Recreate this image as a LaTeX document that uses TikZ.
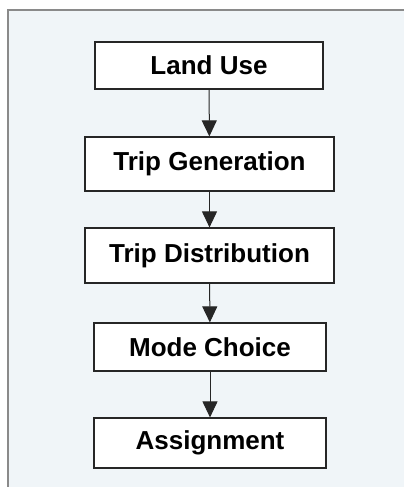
\documentclass[tikz,border=0pt]{standalone}
\usepackage{fontspec}
\setmainfont{Liberation Sans}
\usetikzlibrary{arrows.meta}
\definecolor{panel}{HTML}{F0F5F8}
\definecolor{edge}{HTML}{8A8A8A}
\begin{document}
\begin{tikzpicture}[x=1pt,y=-1pt,
  stepbox/.style={draw=black!85,line width=1.2pt,fill=white,inner sep=0pt,font=\fontsize{26}{30}\selectfont\bfseries},
  flow/.style={draw=black!85,line width=1pt,-{Triangle[width=15pt,length=16pt]}}]
\useasboundingbox (0,0) rectangle (404,487);
\fill[white] (0,0) rectangle (404,487);
\fill[panel] (8,10) rectangle (404,487);
\draw[edge,line width=1.2pt] (8,487) -- (8,10) -- (404,10);
\node[stepbox,minimum width=228pt,minimum height=47pt] (lu) at (209,65.5) {Land Use};
\node[stepbox,minimum width=249pt,minimum height=54pt] (tg) at (209.5,164) {Trip Generation};
\node[stepbox,minimum width=249pt,minimum height=55pt] (td) at (209.5,255.5) {Trip Distribution};
\node[stepbox,minimum width=232pt,minimum height=48pt] (mc) at (210,347) {Mode Choice};
\node[stepbox,minimum width=232pt,minimum height=50pt] (as) at (210,443) {Assignment};
\draw[flow] (lu) -- (tg);
\draw[flow] (tg) -- (td);
\draw[flow] (td) -- (mc);
\draw[flow] (mc) -- (as);
\end{tikzpicture}
\end{document}
